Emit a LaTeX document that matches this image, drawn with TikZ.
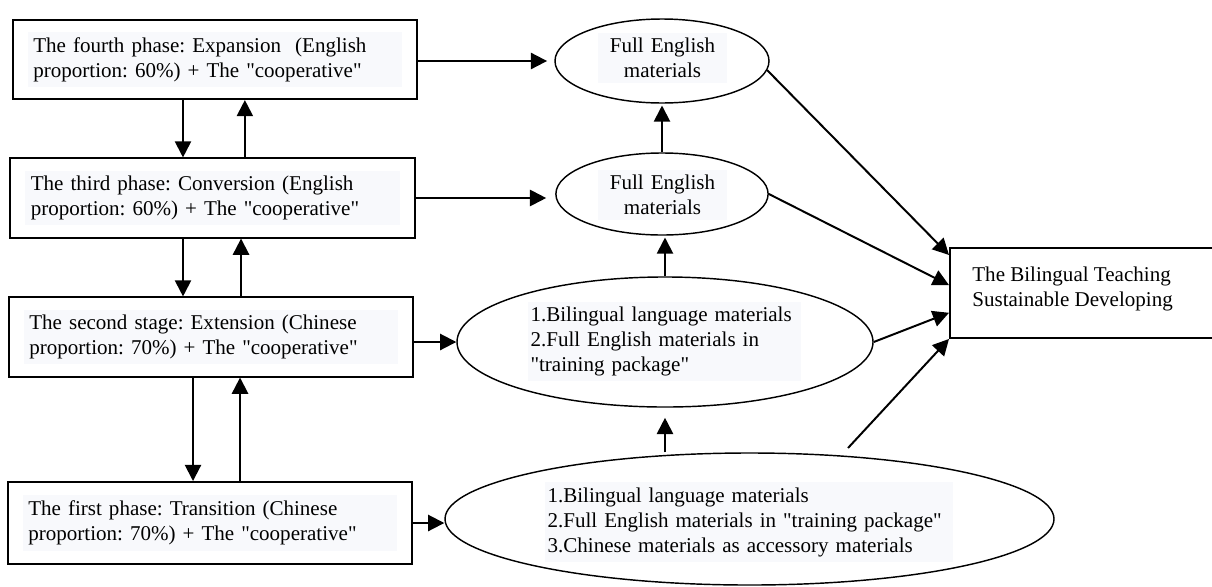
\documentclass[tikz,border=0pt]{standalone}
\usepackage{fontspec}
\setmainfont{Liberation Serif}
\usetikzlibrary{arrows.meta,shapes.geometric}
\definecolor{tint}{RGB}{248,249,252}
\newcommand{\qt}[1]{\textquotedbl#1\textquotedbl}

\begin{document}
\begin{tikzpicture}[x=0.556pt, y=-0.556pt, >={Triangle[length=9pt,width=9pt]},
    every node/.style={font=\fontsize{11.7}{13.9}\selectfont\frenchspacing},
    phase/.style={draw, line width=1.1pt, minimum width=225pt, minimum height=44pt, inner sep=0pt},
    mat/.style={draw, ellipse, line width=0.8pt, inner sep=0pt},
    txt/.style={fill=tint, align=left, inner xsep=3pt, inner ysep=3pt},
    arr/.style={->, line width=1.1pt}]

  \useasboundingbox (0,0) rectangle (1212,586);

  % phase boxes (text on a tinted field)
  \node[phase] (p4) at (215,59.5) {};
  \node[phase] (p3) at (212.5,198) {};
  \node[phase] (p2) at (211,337) {};
  \node[phase, minimum height=45.6pt] (p1) at (210,523) {};
  \node[txt, text width=202pt] (t4) at (p4) {The fourth phase: Expansion\ \ (English\\proportion: 60\%) + The \qt{cooperative}};
  \node[txt, text width=202pt] (t3) at (p3) {The third phase: Conversion (English\\proportion: 60\%) + The \qt{cooperative}};
  \node[txt, text width=202pt] (t2) at (p2) {The second stage: Extension (Chinese\\proportion: 70\%) + The \qt{cooperative}};
  \node[txt, text width=202pt] (t1) at (p1) {The first phase: Transition (Chinese\\proportion: 70\%) + The \qt{cooperative}};

  % materials
  \node[mat, minimum width=119pt, minimum height=46.7pt] (m4) at (662,61) {};
  \node[mat, minimum width=118pt, minimum height=45.6pt] (m3) at (662,194) {};
  \node[mat, minimum width=231.3pt, minimum height=72.3pt] (m2) at (665,342) {};
  \node[mat, minimum width=338.6pt, minimum height=73.4pt] (m1) at (749.5,519) {};
  \node[txt, align=center, text width=66pt] (u4) at (662.5,58) {Full English\\materials};
  \node[txt, align=center, text width=66pt] (u3) at (662.5,195) {Full English\\materials};
  \node[txt, text width=149pt, inner xsep=1.5pt] (u2) at (664.5,341.5) {1.Bilingual language materials\\2.Full English materials in\\\qt{training package}};
  \node[txt, text width=224pt, inner xsep=1.5pt] (u1) at (749,522) {1.Bilingual language materials\\2.Full English materials in \qt{training package}\\3.Chinese materials as accessory materials};

  % goal
  \node[phase, minimum width=146.8pt, minimum height=50pt] (goal) at (1082,293) {};
  \node[anchor=north west, inner sep=0pt, align=left] (gt) at (972,267) {The Bilingual Teaching\\Sustainable Developing};

  % phase to phase
  \draw[arr] ([xshift=-17.8pt]p4.south) -- ([xshift=-17.8pt]p4.south |- p3.north);
  \draw[arr] ([xshift=18pt]p3.north) -- ([xshift=18pt]p3.north |- p4.south);
  \draw[arr] ([xshift=-16.4pt]p3.south) -- ([xshift=-16.4pt]p3.south |- p2.north);
  \draw[arr] ([xshift=16.7pt]p2.north) -- ([xshift=16.7pt]p2.north |- p3.south);
  \draw[arr] ([xshift=-10pt]p2.south) -- ([xshift=-10pt]p2.south |- p1.north);
  \draw[arr] ([xshift=16.7pt]p1.north) -- ([xshift=16.7pt]p1.north |- p2.south);

  % phase to materials
  \draw[arr, shorten >=4pt] (p4.east |- m4.west) -- (m4.west);
  \draw[arr, shorten >=5pt] (p3.east) -- (p3.east -| m3.west);
  \draw[arr] (p2.east |- m2.west) -- (m2.west);
  \draw[arr] (p1.east) -- (p1.east -| m1.west);

  % materials upwards
  \draw[arr, shorten >=1pt] (m3.north) -- (m4.south);
  \draw[arr, shorten >=1pt] (m2.north) -- (m2.north |- m3.south);
  \draw[arr, shorten >=5.6pt] (m2.south |- m1.north) -- (m2.south);

  % materials to goal
  \coordinate (m1out) at (848,448);
  \draw[arr] (m4.-5) -- ([yshift=-4.4pt]goal.north west);
  \draw[arr] (m3.east) -- ([yshift=4.4pt]goal.west);
  \draw[arr] (m2.east) -- ([yshift=-11pt]goal.west);
  \draw[arr] (m1out) -- (goal.south west);

\end{tikzpicture}
\end{document}
